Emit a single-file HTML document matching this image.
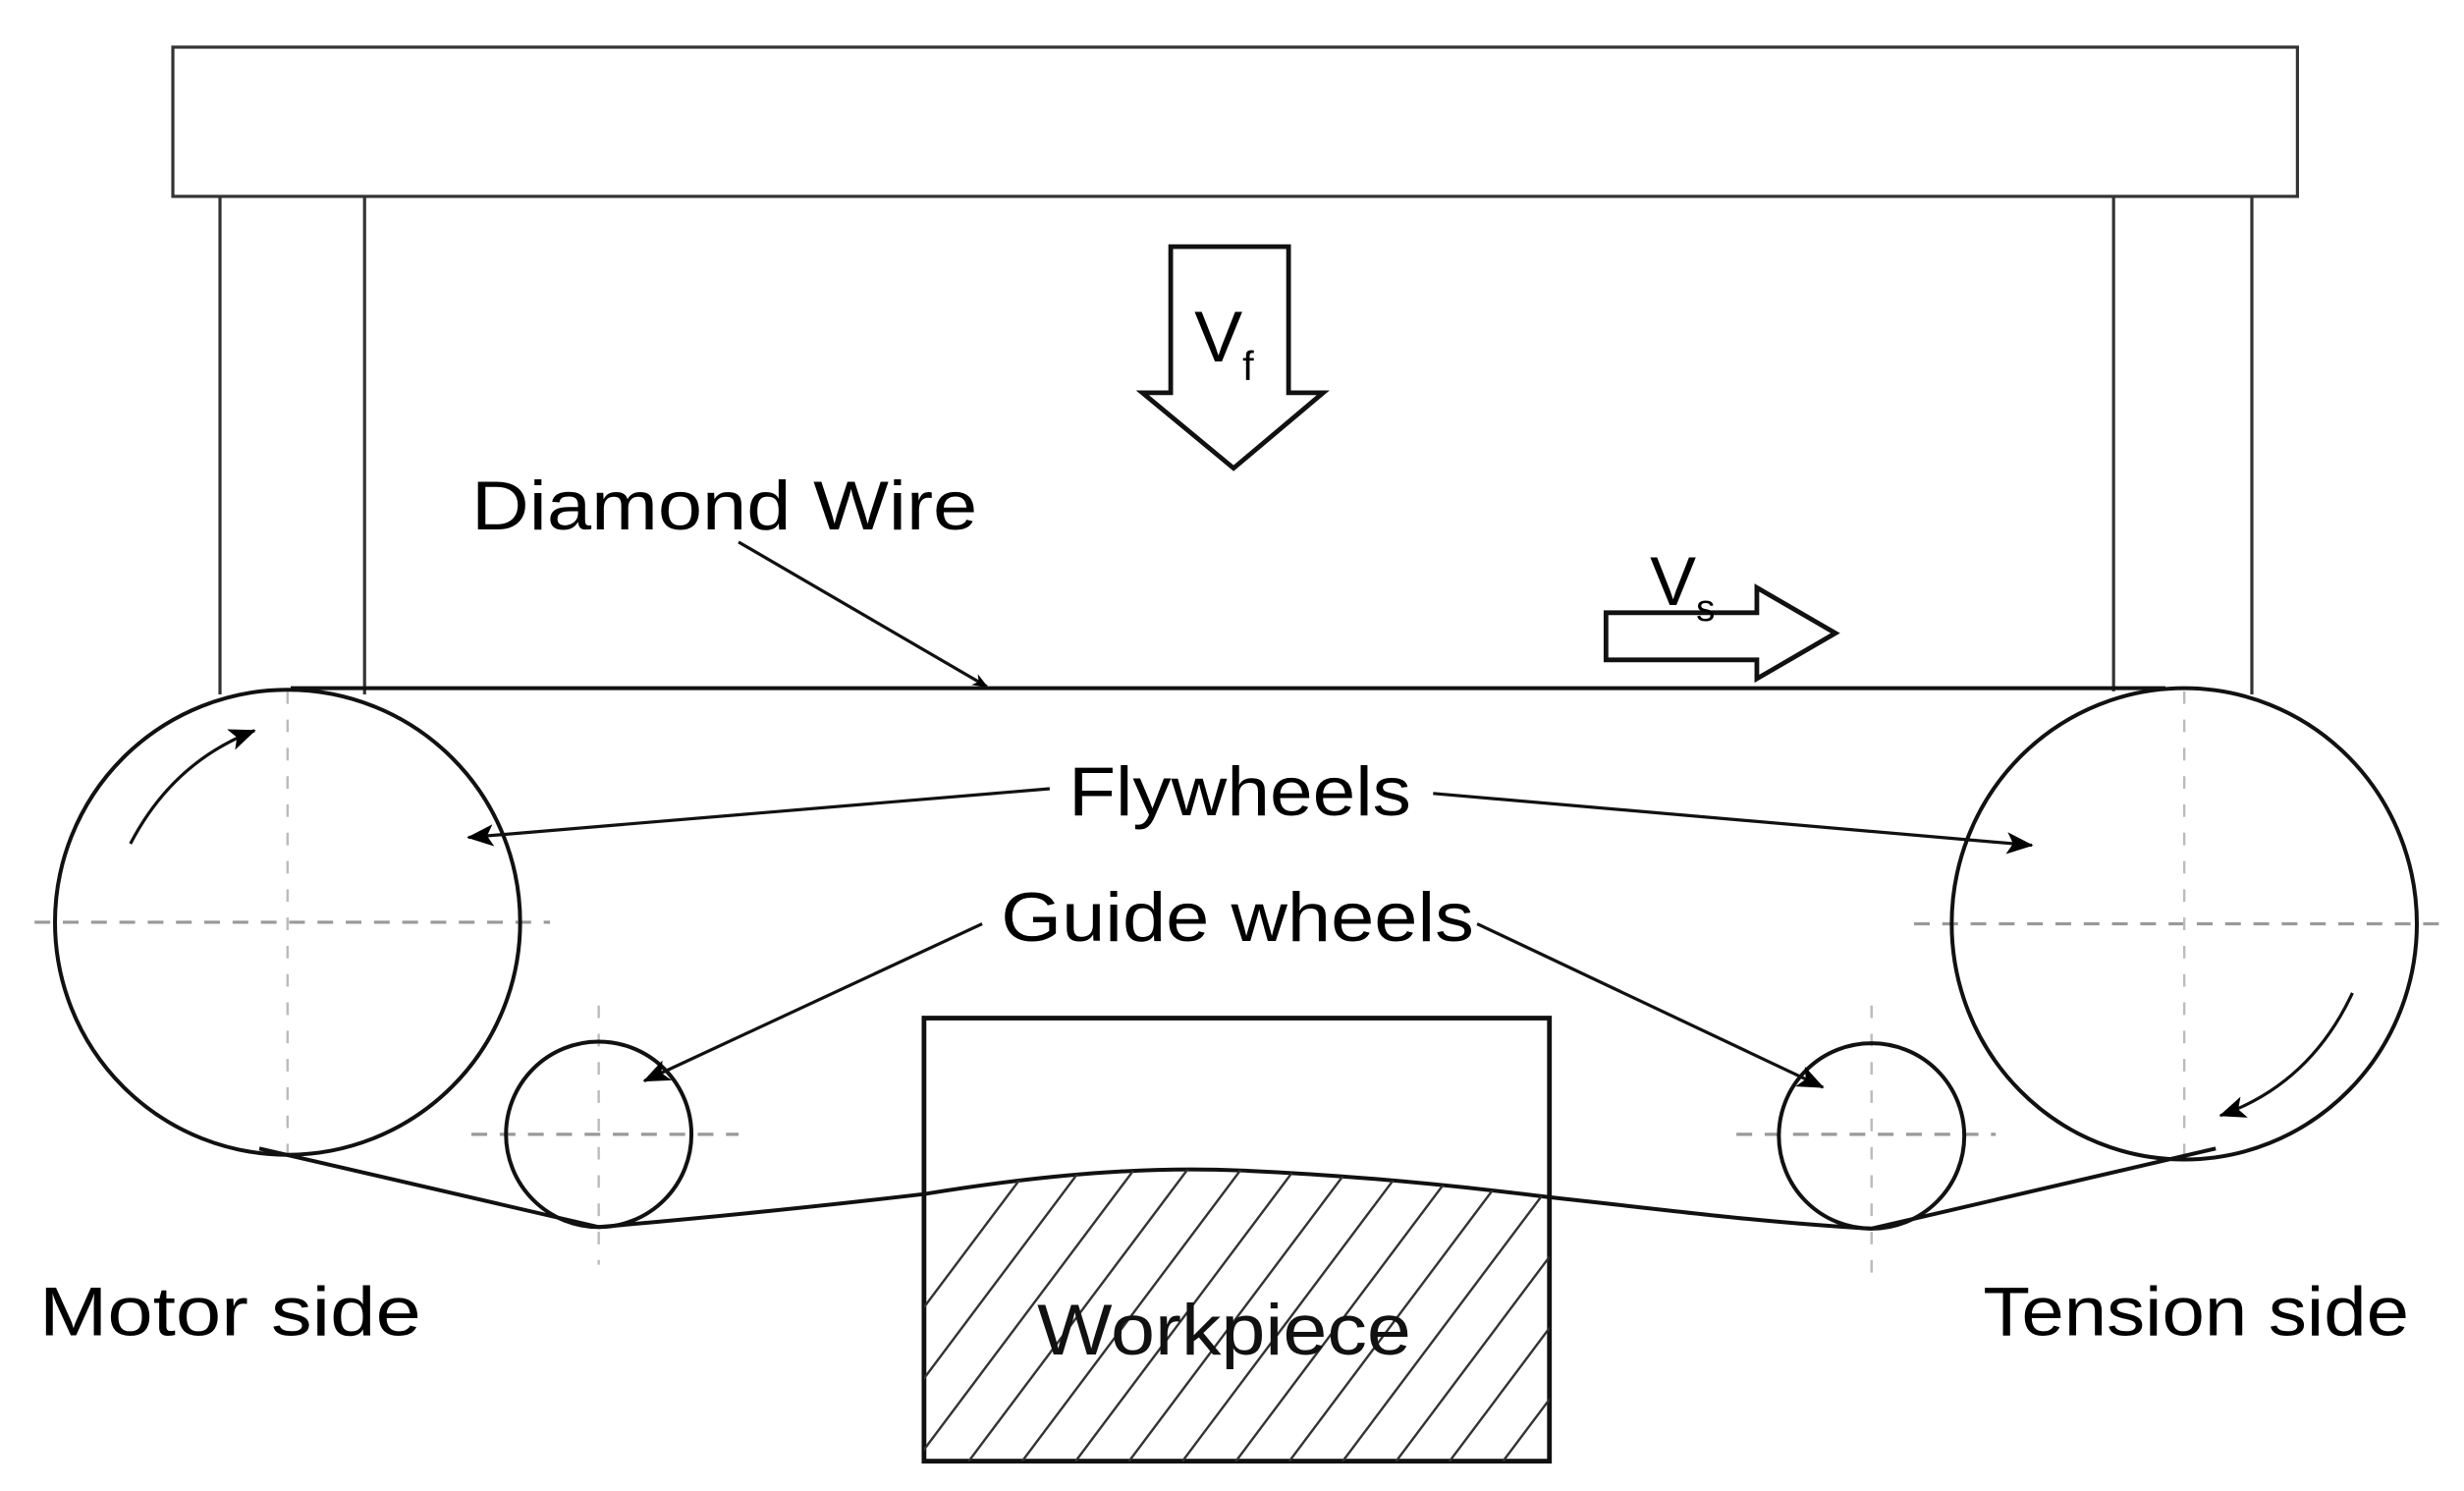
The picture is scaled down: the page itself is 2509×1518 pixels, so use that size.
<!DOCTYPE html>
<html><head><meta charset="utf-8"><style>html,body{margin:0;padding:0;background:#fff}svg{display:block}</style></head><body>
<svg width="2509" height="1518" viewBox="0 0 1568 949" preserveAspectRatio="none" xmlns="http://www.w3.org/2000/svg" font-family="Liberation Sans, sans-serif">
<defs>
<marker id="ah" markerWidth="10" markerHeight="8" refX="9" refY="4" orient="auto" markerUnits="userSpaceOnUse"><path d="M0,0 L10,4 L0,8 L3,4 z" fill="#000"/></marker>
<marker id="ah2" markerWidth="18" markerHeight="14" refX="16" refY="7" orient="auto" markerUnits="userSpaceOnUse"><path d="M0,0 L17,7 L0,14 L4,7 z" fill="#000"/></marker>
<clipPath id="wp"><path d="M588,760 C680,745 740,743 790,745 C860,748 930,755 986,762 L986,930 L588,930 z"/></clipPath>
</defs>
<rect width="1568" height="949" fill="#fff"/>
<rect x="110" y="30" width="1352" height="95" fill="none" stroke="#333" stroke-width="2"/>
<g stroke="#333" stroke-width="2">
<line x1="140" y1="125" x2="140" y2="442"/><line x1="232" y1="125" x2="232" y2="442"/>
<line x1="1345" y1="125" x2="1345" y2="440"/><line x1="1433" y1="125" x2="1433" y2="442"/>
</g>
<path d="M745,157 L820,157 L820,250 L842,250 L785,298 L727,250 L745,250 z" fill="#fff" stroke="#111" stroke-width="3"/>
<text x="760" y="230" font-size="46">V<tspan font-size="26" dy="12">f</tspan></text>
<path d="M1022,390 L1118,390 L1118,374 L1168,403 L1118,432 L1118,420 L1022,420 z" fill="#fff" stroke="#111" stroke-width="3"/>
<text x="1050" y="385" font-size="44">V<tspan font-size="24" dy="10">s</tspan></text>
<text x="300" y="337" font-size="44" textLength="322" lengthAdjust="spacingAndGlyphs">Diamond Wire</text>
<line x1="470" y1="345" x2="628" y2="437" stroke="#111" stroke-width="2" marker-end="url(#ah)"/>
<g stroke="#999" stroke-width="2" stroke-dasharray="10,8">
<line x1="22" y1="587" x2="350" y2="587"/>
<line x1="1218" y1="588" x2="1560" y2="588"/>
<line x1="300" y1="722" x2="470" y2="722"/>
<line x1="1105" y1="722" x2="1270" y2="722"/>
</g>
<g stroke="#bbb" stroke-width="1.5" stroke-dasharray="8,10">
<line x1="183" y1="440" x2="183" y2="740"/>
<line x1="1390" y1="440" x2="1390" y2="740"/>
<line x1="381" y1="640" x2="381" y2="805"/>
<line x1="1191" y1="640" x2="1191" y2="810"/>
</g>
<g fill="none" stroke="#111" stroke-width="2.5">
<ellipse cx="183" cy="587" rx="148" ry="148"/>
<ellipse cx="1390" cy="588" rx="148" ry="150"/>
<circle cx="381" cy="722" r="59"/>
<circle cx="1191" cy="723" r="59"/>
<line x1="185" y1="438" x2="1378" y2="438"/>
<path d="M165,731 L381,781 C450,775 520,768 588,760 C680,745 740,743 790,745 C860,748 930,755 986,762 C1060,770 1120,778 1191,782 L1410,731"/>
</g>
<rect x="588" y="648" width="398" height="282" fill="none" stroke="#111" stroke-width="3"/>
<g clip-path="url(#wp)" stroke="#333" stroke-width="1.5">
<line x1="560" y1="960" x2="800" y2="640"/><line x1="594" y1="960" x2="834" y2="640"/>
<line x1="628" y1="960" x2="868" y2="640"/><line x1="662" y1="960" x2="902" y2="640"/>
<line x1="696" y1="960" x2="936" y2="640"/><line x1="730" y1="960" x2="970" y2="640"/>
<line x1="764" y1="960" x2="1004" y2="640"/><line x1="798" y1="960" x2="1038" y2="640"/>
<line x1="832" y1="960" x2="1072" y2="640"/><line x1="866" y1="960" x2="1106" y2="640"/>
<line x1="900" y1="960" x2="1140" y2="640"/><line x1="934" y1="960" x2="1174" y2="640"/>
<line x1="526" y1="960" x2="766" y2="640"/><line x1="492" y1="960" x2="732" y2="640"/>
</g>
<text x="660" y="862" font-size="46" fill="#111" textLength="238" lengthAdjust="spacingAndGlyphs">Workpiece</text>
<text x="680" y="519" font-size="44" textLength="218" lengthAdjust="spacingAndGlyphs">Flywheels</text>
<text x="637" y="599" font-size="44" textLength="301" lengthAdjust="spacingAndGlyphs">Guide wheels</text>
<text x="25" y="850" font-size="44" textLength="243" lengthAdjust="spacingAndGlyphs">Motor side</text>
<text x="1262" y="850" font-size="44" textLength="271" lengthAdjust="spacingAndGlyphs">Tension side</text>
<g stroke="#111" stroke-width="2" fill="none">
<line x1="668" y1="502" x2="298" y2="533" marker-end="url(#ah2)"/>
<line x1="912" y1="505" x2="1293" y2="538" marker-end="url(#ah2)"/>
<line x1="625" y1="588" x2="410" y2="688" marker-end="url(#ah2)"/>
<line x1="940" y1="588" x2="1160" y2="692" marker-end="url(#ah2)"/>
<path d="M83,537 Q110,485 162,465" marker-end="url(#ah2)"/>
<path d="M1497,632 Q1470,690 1413,710" marker-end="url(#ah2)"/>
</g>
</svg>
</body></html>
